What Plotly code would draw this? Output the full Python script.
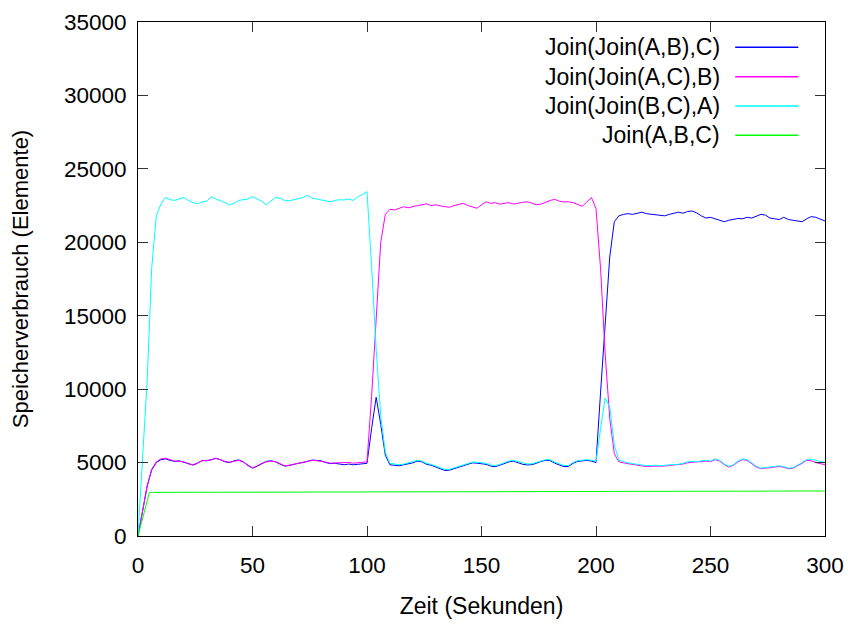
import plotly.graph_objects as go

# time axis (seconds), sampled every 2 s
t = list(range(0, 301, 2))

join_ab_c = [
    0, 1700, 3400, 4500, 5000, 5200, 5250, 5150, 5080, 5120, 5030, 4900, 4830, 4950, 5150, 5120, 5200,
    5280, 5200, 5050, 5000, 5120, 5180, 5050, 4800, 4620, 4750, 4930, 5080, 5120, 5050, 4900, 4760,
    4800, 4900, 4950, 5000, 5100, 5170, 5150, 5120, 5000, 4930, 4950, 4880, 4850, 4900, 4850, 4880,
    4900, 4950,
    7300, 9450, 7600, 5500, 4850, 4800, 4780, 4850, 4900, 4980, 5100, 5050, 4880, 4820, 4700, 4580,
    4460, 4480, 4580, 4650, 4780, 4900, 4980, 4960, 4930, 4880, 4760, 4720, 4820, 4950, 5050, 5100,
    5000, 4880, 4840, 4860, 4950, 5080, 5150, 5130, 4960, 4850, 4720, 4740, 4950, 5080, 5110, 5150,
    5100, 5000,
    9800, 14800, 19000, 21400, 21800, 21900, 21950, 21900, 22000, 22050, 21950, 21900, 21880, 21820,
    21800, 21900, 22000, 22050, 21980, 22100, 22130, 22000, 21800, 21650, 21700, 21600, 21450, 21400,
    21500, 21550, 21620, 21600, 21700, 21650, 21780, 21900, 21850, 21650, 21600, 21550, 21700, 21550,
    21500, 21450, 21400, 21600, 21750, 21700, 21600, 21450,
]

join_ac_b = [
    0, 1700, 3400, 4550, 5050, 5250, 5300, 5200, 5100, 5080, 5050, 4920, 4850, 4980, 5120, 5150, 5180,
    5300, 5180, 5080, 5020, 5100, 5150, 5030, 4830, 4640, 4770, 4950, 5050, 5100, 5070, 4920, 4780,
    4820, 4880, 4970, 5020, 5080, 5150, 5130, 5100, 5030, 4960, 4980, 4950, 4990, 5010, 4960, 5000,
    5020, 5050,
    9500, 15200, 20000, 21900, 22250, 22200, 22300, 22420, 22350, 22450, 22500, 22550, 22620, 22500,
    22550, 22480, 22420, 22380, 22500, 22600, 22650, 22500, 22400, 22320, 22550, 22760, 22650, 22700,
    22600, 22650, 22700, 22600, 22680, 22720, 22760, 22650, 22560, 22600, 22750, 22850, 22920, 22800,
    22750, 22760, 22700, 22600, 22450, 22750, 23050, 22300,
    18200, 12400, 8000, 5600, 5050, 4980, 4920, 4870, 4800, 4760, 4720, 4750, 4760, 4720, 4760, 4800,
    4830, 4850, 4900, 4990, 5020, 5000, 5080, 5100, 5060, 5200, 5100, 4860, 4700, 4820, 5050, 5200,
    5150, 4930, 4700, 4580, 4620, 4680, 4720, 4730, 4680, 4580, 4620, 4760, 4950, 5150, 5120, 5000,
    4900, 4850,
]

join_bc_a = [
    0, 5300, 10600, 18300, 21800, 22600, 23050, 22900, 22850, 22950, 23050, 22850, 22700, 22620, 22750,
    22800, 23100, 22950, 22850, 22700, 22540, 22650, 22850, 22900, 22950, 23100, 22950, 22800, 22550,
    22800, 23050, 23000, 22850, 22820, 22900, 22950, 23050, 23200, 23000, 22950, 22900, 22820, 22750,
    22850, 22900, 22880, 22950, 22850, 23100, 23250, 23450,
    18400, 12700, 8200, 5700, 4950, 4880, 4850, 4900, 4980, 5030, 5150, 5100, 4950, 4880, 4760, 4650,
    4530, 4540, 4640, 4720, 4850, 4960, 5030, 5020, 5000, 4950, 4830, 4790, 4880, 5010, 5110, 5150,
    5060, 4950, 4900, 4920, 5010, 5130, 5200, 5190, 5020, 4920, 4800, 4800, 5010, 5130, 5160, 5200,
    5160, 5100,
    7300, 9400, 8800, 6200, 5150, 5050, 4980, 4930, 4880, 4820, 4790, 4800, 4820, 4780, 4790, 4850,
    4870, 4880, 4950, 5050, 5080, 5050, 5120, 5150, 5100, 5250, 5150, 4900, 4750, 4850, 5100, 5250,
    5200, 4980, 4750, 4620, 4650, 4700, 4750, 4780, 4720, 4620, 4650, 4800, 5000, 5200, 5230, 5150,
    5080, 5000,
]

t_abc = [0, 5, 100, 200, 300]
join_abc = [0, 2970, 3000, 3035, 3065]

names = ["Join(Join(A,B),C)", "Join(Join(A,C),B)", "Join(Join(B,C),A)", "Join(A,B,C)"]
colors = ["#0000ff", "#ff00ff", "#00ffff", "#00ff00"]
xs = [t, t, t, t_abc]
ys = [join_ab_c, join_ac_b, join_bc_a, join_abc]

x_ticks = [0, 50, 100, 150, 200, 250, 300]
y_ticks = [0, 5000, 10000, 15000, 20000, 25000, 30000, 35000]

FONT = "Liberation Sans, Arial, sans-serif"

fig = go.Figure()
for x, y, n, c in zip(xs, ys, names, colors):
    fig.add_trace(go.Scatter(x=x, y=y, mode="lines", name=n,
                             line=dict(color=c, width=1)))

# gnuplot-style legend: right-aligned text, line sample on the right
leg_y = [0.9508, 0.8936, 0.8366, 0.7796]
for i, (n, c) in enumerate(zip(names, colors)):
    fig.add_annotation(xref="paper", yref="paper", x=0.8504, y=leg_y[i], text=n,
                       showarrow=False, xanchor="right", yanchor="middle",
                       font=dict(family=FONT, size=23, color="black"))
    fig.add_shape(type="line", xref="paper", yref="paper", x0=0.8693, x1=0.9611,
                  y0=leg_y[i], y1=leg_y[i], line=dict(color=c, width=1.5))

axis_common = dict(showline=True, linecolor="black", linewidth=1, mirror="ticks",
                   ticks="inside", ticklen=10, tickwidth=1, tickcolor="#333333",
                   showgrid=False, zeroline=False, automargin=False,
                   tickfont=dict(family=FONT, size=22.5, color="black"))

fig.update_xaxes(range=[0, 300], tickvals=x_ticks, ticktext=[str(v) for v in x_ticks],
                 title=dict(text="Zeit (Sekunden)", font=dict(family=FONT, size=23, color="black"),
                            standoff=20),
                 ticklabelstandoff=9, **axis_common)
fig.update_yaxes(range=[0, 35000], tickvals=y_ticks, ticktext=[str(v) for v in y_ticks],
                 title=dict(text="Speicherverbrauch (Elemente)",
                            font=dict(family=FONT, size=22, color="black"), standoff=29),
                 ticklabelstandoff=6, **axis_common)

fig.update_layout(width=848, height=624, margin=dict(l=138, r=23, t=22, b=88, autoexpand=False),
                  plot_bgcolor="white", paper_bgcolor="white", showlegend=False,
                  font=dict(family=FONT, size=22, color="black"))

fig.write_html("out.html")
